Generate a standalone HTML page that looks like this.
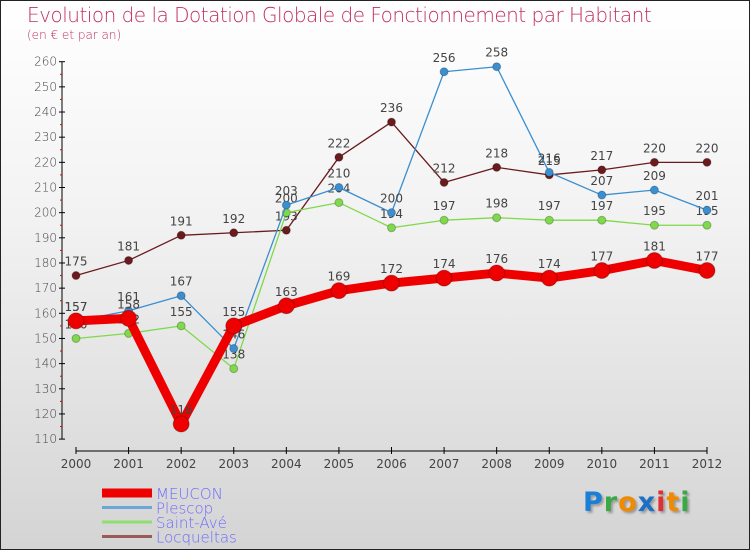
<!DOCTYPE html>
<html><head><meta charset="utf-8"><style>
html,body{margin:0;padding:0}
body{width:750px;height:550px;overflow:hidden;font-family:"DejaVu Sans","Liberation Sans",sans-serif}
#wrap{position:relative;width:748px;height:548px;border:1px solid #222;background:linear-gradient(#ffffff 0%,#f2f2f2 40%,#d4d4d4 100%)}
.t{position:absolute;color:#c0305a;font-weight:200}
</style></head><body>
<div id="wrap">
<div class="t" style="left:26px;top:2px;font-size:20px;letter-spacing:-0.5px">Evolution de la Dotation Globale de Fonctionnement par Habitant</div>
<div class="t" style="left:26px;top:27px;font-size:12px">(en € et par an)</div>
<svg id="c" width="748" height="548" style="position:absolute;left:0;top:0"></svg>
<div style="position:absolute;left:582px;top:486px;font:bold 27px 'DejaVu Sans',sans-serif;text-shadow:2px 2px 2px #999;letter-spacing:1px"><span style="color:#1a7fd6">P</span><span style="color:#3aa845">r</span><span style="color:#f08a00">o</span><span style="color:#1a6fc6">x</span><span style="color:#e03030">i</span><span style="color:#f08a00">t</span><span style="color:#3aa845">i</span></div>
</div>
<script>
const years=[2000,2001,2002,2003,2004,2005,2006,2007,2008,2009,2010,2011,2012];
const yTicks=[110,120,130,140,150,160,170,180,190,200,210,220,230,240,250,260];
const meucon=[157,158,116,155,163,169,172,174,176,174,177,181,177];
const plescop=[157,161,167,146,203,210,200,256,258,216,207,209,201];
const saintAve=[150,152,155,138,200,204,194,197,198,197,197,195,195];
const locqueltas=[175,181,191,192,193,222,236,212,218,215,217,220,220];
const NS="http://www.w3.org/2000/svg";
const svg=document.getElementById('c');
const x=i=>75+i*(706-75)/(years.length-1);
const y=v=>60.7+(260-v)*2.516;
function mk(t,a,p){const e=document.createElementNS(NS,t);for(const k in a)e.setAttribute(k,a[k]);(p||svg).appendChild(e);return e;}
// axes
let ax=mk('line',{x1:61,y1:y(260),x2:61,y2:y(110),stroke:'#000','stroke-width':1});


yTicks.forEach(v=>{
  mk('line',{x1:58,x2:64,y1:y(v),y2:y(v),stroke:'#000'});
  if(v<260)mk('line',{x1:59,x2:61,y1:y(v+5),y2:y(v+5),stroke:'#e00'});
  const t=mk('text',{x:56,y:y(v)+4,'text-anchor':'end','font-size':12,fill:'#444','font-family':'DejaVu Sans, sans-serif','font-weight':'200'});
  t.textContent=v;
  
  
});
let xa=mk('line',{x1:75,y1:450,x2:706,y2:450,stroke:'#000'});


years.forEach((yr,i)=>{
  mk('line',{x1:x(i),x2:x(i),y1:446,y2:453,stroke:'#000'});
  const t=mk('text',{x:x(i),y:467,'text-anchor':'middle','font-size':12,fill:'#444','font-family':'DejaVu Sans, sans-serif'});
  t.textContent=yr;
  
  
});
function series(data,color,w,r,name){
  const g=mk('g',{});
  
  
  mk('polyline',{points:data.map((v,i)=>x(i)+','+y(v)).join(' '),fill:'none',stroke:color,'stroke-width':w,'stroke-linejoin':'round'},g);
  data.forEach((v,i)=>{
    const c=mk('circle',{cx:x(i),cy:y(v),r:r,fill:color,stroke:'rgba(0,0,0,0.25)','stroke-width':1},g);
    
    
    const t=mk('text',{x:x(i),y:y(v)-10,'text-anchor':'middle','font-size':12,fill:'#444','font-family':'DejaVu Sans, sans-serif'},g);
    t.textContent=v;
    
    
  });
}
series(locqueltas,'#6b1a1e',1.3,4,'locqueltas');
series(saintAve,'#7fd94a',1.3,4,'saint-ave');
series(plescop,'#3a8fd0',1.3,4,'plescop');
series(meucon,'#ee0000',9,8,'meucon');
// legend
const leg=[['MEUCON','#ee0000',9],['Plescop','#6aa7d6',3],['Saint-Avé','#8fe070',3],['Locqueltas','#9a5a5a',3]];
leg.forEach((l,i)=>{
  const g=mk('g',{});
  
  
  const yy=492+i*14.5;
  mk('line',{x1:101,x2:151,y1:yy,y2:yy,stroke:l[1],'stroke-width':l[2]},g);
  const t=mk('text',{x:155,y:yy+6,'font-size':15,fill:'#6a6aff','font-family':'DejaVu Sans, sans-serif','font-weight':'200'},g);
  t.textContent=l[0];
});
</script>
</body></html>
